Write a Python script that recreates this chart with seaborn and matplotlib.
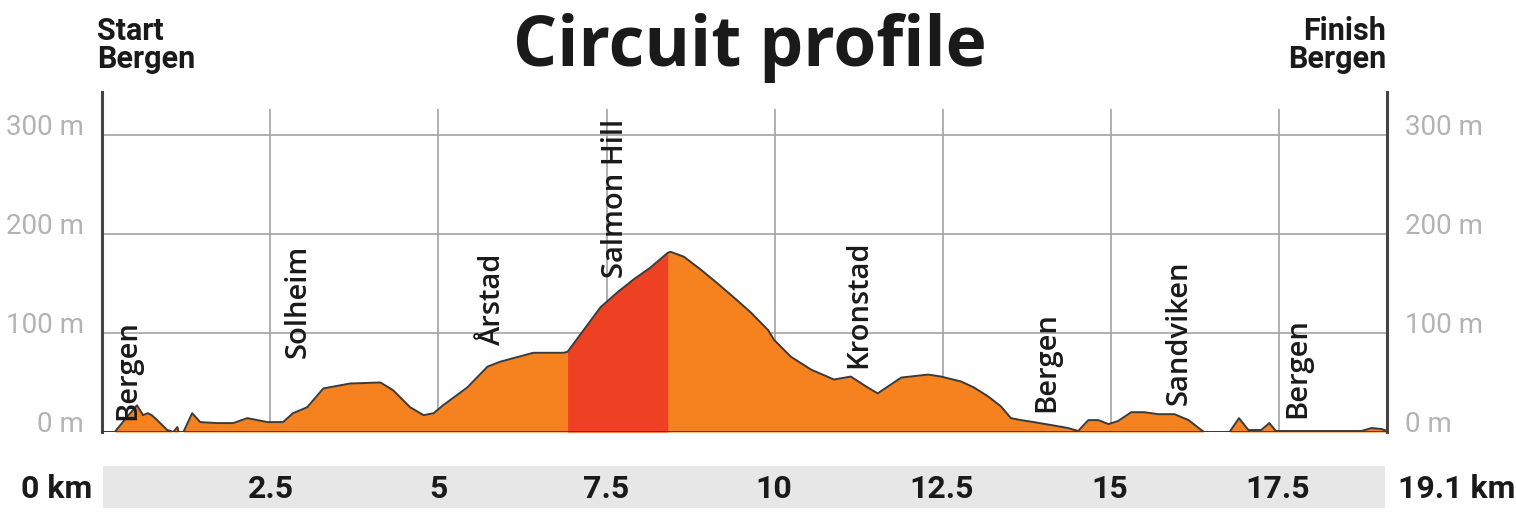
import matplotlib
matplotlib.use("Agg")
import matplotlib.pyplot as plt
from matplotlib import font_manager
import numpy as np
import pandas as pd
import seaborn as sns

# distance along the circuit (km) and elevation (m)
dist_km = [0.00, 0.19, 0.37, 0.52, 0.61, 0.68, 0.74, 0.82, 0.97, 1.06, 1.12, 1.14,
           1.21, 1.34, 1.46, 1.71, 1.95, 2.16, 2.46, 2.69, 2.84, 3.05, 3.29, 3.69,
           4.14, 4.33, 4.58, 4.78, 4.93, 5.07, 5.43, 5.73, 5.92, 6.41, 6.86, 6.92,
           7.16, 7.41, 7.66, 7.90, 8.15, 8.41, 8.45, 8.65, 8.90, 9.15, 9.39, 9.64,
           9.90, 9.99, 10.24, 10.54, 10.88, 11.13, 11.38,
           11.53, 11.88, 12.28, 12.47, 12.77, 12.96, 13.17, 13.36, 13.51, 13.66,
           13.85, 14.11, 14.36, 14.51, 14.66, 14.81, 14.96, 15.10, 15.30, 15.49,
           15.70, 15.94, 16.15, 16.34, 16.38, 16.76, 16.90, 17.04, 17.23, 17.35,
           17.45, 17.83, 18.72, 18.87, 19.02, 19.10]
elev_m = [0, 0, 15, 27, 17, 19, 17, 12, 2, 0, 5, 0,
          0, 19, 10, 9, 9, 14, 10, 10, 19, 25, 44, 49,
          50, 42, 25, 17, 19, 27, 45, 66, 71, 80, 80, 81,
          103, 126, 141, 154, 166, 181, 182, 177, 164, 150, 136, 121,
          103, 93, 76, 63, 53, 56, 45,
          39, 55, 58, 56, 51, 45, 36, 26, 14, 12,
          10, 7, 4, 1, 12, 12, 8, 11, 20, 20,
          18, 18, 12, 2, 0, 0, 14, 2, 2, 9,
          1, 1, 1, 4, 3, 1]

# steep climb section (Salmon Hill)
climb_start_km = 6.92
climb_end_km = 8.41
total_km = 19.1

km_ticks = [2.5, 5, 7.5, 10, 12.5, 15, 17.5]
km_labels = ["2.5", "5", "7.5", "10", "12.5", "15", "17.5"]
elev_ticks = [0, 100, 200, 300]
elev_labels = ["0 m", "100 m", "200 m", "300 m"]

places = ["Bergen", "Solheim", "Årstad", "Salmon Hill", "Kronstad", "Bergen", "Sandviken", "Bergen"]
place_km = [0.39, 2.92, 5.80, 7.63, 11.25, 14.05, 16.01, 17.78]
place_elev = [12, 75, 88, 156, 65, 20, 27, 14]

df = pd.DataFrame({"km": dist_km, "elev": elev_m})

sns.set_theme(style="white")
installed = {f.name for f in font_manager.fontManager.ttflist}
narrow = "Liberation Sans Narrow" if "Liberation Sans Narrow" in installed else "Roboto"
plt.rcParams["font.family"] = ["Open Sans", "DejaVu Sans"]

ORANGE = "#f5821f"
RED = "#ee4123"
GRID = "#a3a3a3"
DARK = "#3a3a3a"

fig = plt.figure(figsize=(15.16, 5.14), dpi=100)
ax = fig.add_axes([102 / 1516, 82 / 514, 1285 / 1516, 340 / 514])

ax.set_xlim(0, total_km)
ax.set_ylim(0, 343.4)

# grid
for v in elev_ticks[1:]:
    ax.axhline(v, color=GRID, lw=1.2, zorder=0)
ax.vlines(km_ticks, 0, 326, color=GRID, lw=1.2, zorder=0)

# profile fill
km = np.array(dist_km)
el = np.array(elev_m)
ax.fill_between(km, 0, el, color=ORANGE, lw=0, zorder=1)
climb = (km >= climb_start_km) & (km <= climb_end_km)
ax.fill_between(km, 0, el, where=climb, color=RED, lw=0, zorder=2)
sns.lineplot(data=df, x="km", y="elev", color=DARK, lw=1.4, estimator=None,
             ax=ax, zorder=3)
ax.axhline(0, color=DARK, lw=2, zorder=3)

# axes styling
for s in ["top", "bottom"]:
    ax.spines[s].set_visible(False)
for s in ["left", "right"]:
    ax.spines[s].set_color("#444444")
    ax.spines[s].set_linewidth(2.2)
ax.set_xticks([])
ax.set_xlabel("")
ax.set_ylabel("")
ax.set_yticks(elev_ticks)
ax.set_yticklabels(elev_labels)
ax.tick_params(axis="y", left=False, right=False, labelleft=True, labelright=True,
               labelsize=20, labelcolor="#b3b3b3", pad=7)
for t in ax.yaxis.get_major_ticks():
    t.label1.set_va("baseline")
    t.label2.set_va("baseline")
    t.label1.set_fontfamily(narrow)
    t.label2.set_fontfamily(narrow)

# place names
for name, x, y in zip(places, place_km, place_elev):
    ax.text(x, y, name, rotation=90, ha="center", va="bottom", fontsize=21,
            color="#1a1a1a", fontweight="semibold", zorder=4)

# distance band
band = fig.add_axes([103 / 1516, 6 / 514, 1282 / 1516, 42 / 514])
band.set_facecolor("#e7e7e7")
band.set_xlim(0, total_km)
band.set_ylim(0, 1)
band.set_xticks([])
band.set_yticks([])
for s in band.spines.values():
    s.set_visible(False)
for x, lab in zip(km_ticks, km_labels):
    band.text(x, 0.46, lab, ha="center", va="center", fontsize=23,
              fontweight="bold", color="#1a1a1a", family=narrow)
fig.text(92 / 1516, 1 - 489 / 514, "0 km", ha="right", va="center", fontsize=23,
         fontweight="bold", color="#1a1a1a", family=narrow)
fig.text(1398 / 1516, 1 - 489 / 514, "19.1 km", ha="left", va="center", fontsize=23,
         fontweight="bold", color="#1a1a1a", family=narrow)

# title and start / finish
fig.text(750 / 1516, 1 - 66 / 514, "Circuit profile", ha="center", va="baseline",
         fontsize=50, fontweight="bold", color="#1a1a1a")
fig.text(97 / 1516, 1 - 40 / 514, "Start", ha="left", va="baseline", fontsize=22,
         fontweight="bold", color="#1a1a1a", family=narrow)
fig.text(97 / 1516, 1 - 68 / 514, "Bergen", ha="left", va="baseline", fontsize=22,
         fontweight="bold", color="#1a1a1a", family=narrow)
fig.text(1386 / 1516, 1 - 40 / 514, "Finish", ha="right", va="baseline", fontsize=22,
         fontweight="bold", color="#1a1a1a", family=narrow)
fig.text(1386 / 1516, 1 - 68 / 514, "Bergen", ha="right", va="baseline", fontsize=22,
         fontweight="bold", color="#1a1a1a", family=narrow)

fig.savefig("out.png", dpi=100, facecolor="white")
